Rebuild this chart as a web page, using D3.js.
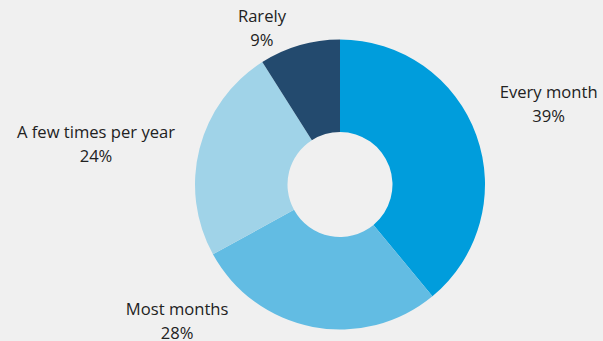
<!DOCTYPE html>
<html>
<head>
<meta charset="utf-8">
<script src="https://cdn.jsdelivr.net/npm/d3@7"></script>
<style>
  html, body { margin: 0; padding: 0; background: #f0f0f0; }
  svg { display: block; }
  text { font-family: "Open Sans", "Noto Sans", sans-serif; font-size: 16.6px; fill: #222; }
</style>
</head>
<body>
<svg id="chart" width="603" height="341"></svg>
<script>
// How often respondents do it
const categories = ["Every month", "Most months", "A few times per year", "Rarely"];
const shares = [39, 28, 24, 9];
const colors = ["#009ddc", "#62bce3", "#a0d3e8", "#234a6e"];

// Label anchor for each slice: angle (degrees clockwise from 12 o'clock) and distance from centre
const labelLayout = {
  "Every month": { angle: 67.4, dist: 226 },
  "Most months": { angle: 231.2, dist: 209 },
  "A few times per year": { angle: 280.9, dist: 248.5 },
  "Rarely": { angle: 334.3, dist: 180 }
};

const width = 603, height = 341;
const cx = 340, cy = 184.5;
const outerR = 145, innerR = 52.5;

const svg = d3.select("#chart");
svg.append("rect").attr("width", width).attr("height", height).attr("fill", "#f0f0f0");

const data = categories.map((c, i) => ({ category: c, value: shares[i], color: colors[i] }));

const pie = d3.pie().value(d => d.value).sort(null);
const arc = d3.arc().innerRadius(innerR).outerRadius(outerR);

const g = svg.append("g").attr("transform", `translate(${cx},${cy})`);

g.selectAll("path.slice")
  .data(pie(data))
  .join("path")
  .attr("class", "slice")
  .attr("d", arc)
  .attr("fill", d => d.data.color);

const labels = g.selectAll("g.label")
  .data(pie(data))
  .join("g")
  .attr("class", "label")
  .attr("transform", d => {
    const l = labelLayout[d.data.category];
    const a = l.angle * Math.PI / 180;
    return `translate(${l.dist * Math.sin(a)},${-l.dist * Math.cos(a)})`;
  });

labels.append("text")
  .attr("text-anchor", "middle")
  .text(d => d.data.category);

labels.append("text")
  .attr("text-anchor", "middle")
  .attr("y", 24)
  .text(d => d.data.value + "%");
</script>
</body>
</html>
